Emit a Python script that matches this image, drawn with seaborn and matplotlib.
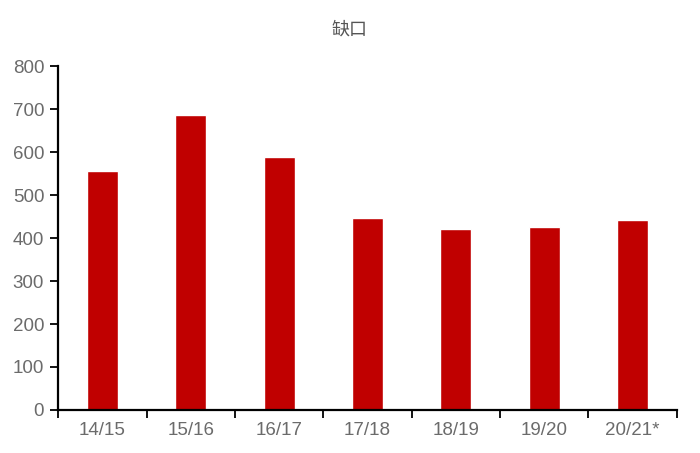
import numpy as np
import pandas as pd
import matplotlib
matplotlib.use("Agg")
import matplotlib.pyplot as plt
import seaborn as sns

# 데이터
seasons = ['14/15', '15/16', '16/17', '17/18', '18/19', '19/20', '20/21*']
gap = [556, 686, 588, 447, 421, 426, 442]

sns.set_style('white')
plt.rcParams['font.family'] = ['Liberation Sans', 'Noto Sans CJK SC', 'DejaVu Sans']

df = pd.DataFrame({'season': seasons, 'gap': gap})

fig = plt.figure(figsize=(7, 4.53), dpi=100)
ax = fig.add_axes([0.083, 0.095, 0.884, 0.759])

sns.barplot(data=df, x='season', y='gap', color='#C00000', saturation=1,
            width=0.35, ax=ax)

ax.set_xlim(-0.5, len(seasons) - 0.5)
ax.set_ylim(0, 800)
ax.set_yticks(np.arange(0, 801, 100))
ax.set_xlabel('')
ax.set_ylabel('')

# x축 눈금은 카테고리 경계에
ax.set_xticks(np.arange(-0.5, len(seasons), 1), minor=True)
ax.tick_params(axis='x', which='major', bottom=True, length=0, pad=9,
               labelsize=13.5, labelcolor='#6b6b6b')
ax.tick_params(axis='x', which='minor', bottom=True, length=6, width=1.3,
               color='black', direction='out')
ax.tick_params(axis='y', left=True, length=6, width=1.3, color='black', direction='out',
               labelsize=13.5, labelcolor='#6b6b6b', pad=4)

for s in ['top', 'right']:
    ax.spines[s].set_visible(False)
for s in ['left', 'bottom']:
    ax.spines[s].set_color('black')
    ax.spines[s].set_linewidth(1.6)

fig.text(0.5, 0.935, '缺口', ha='center', va='center', fontsize=13, color='#555555',
         family=['Noto Sans CJK SC', 'DejaVu Sans'])

fig.savefig('out.png', dpi=100, facecolor='white')
